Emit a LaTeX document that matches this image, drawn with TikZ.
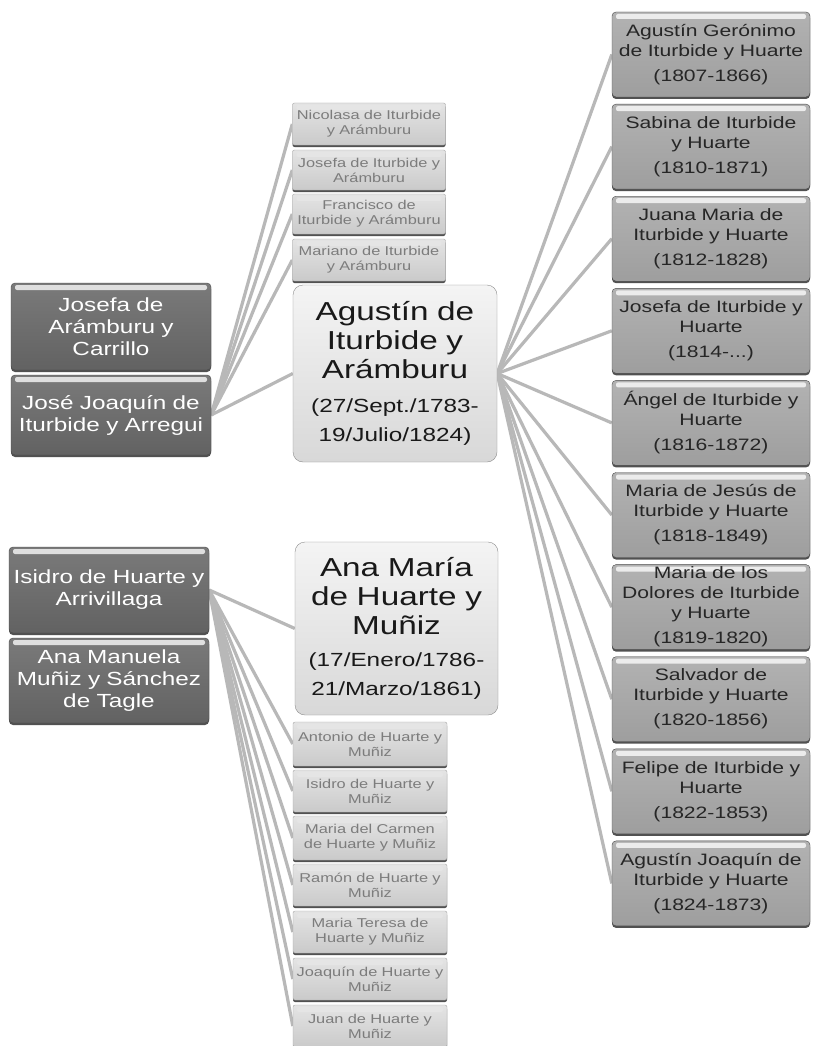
\documentclass[tikz,border=0pt]{standalone}
\usepackage{fontspec}
\newfontfamily\wf{Liberation Sans}[FakeStretch=1.28]
\usetikzlibrary{shadows}
\pgfdeclarelayer{bg}
\pgfsetlayers{bg,main}
\definecolor{dkA}{HTML}{7A7A7A}
\definecolor{dkB}{HTML}{626262}
\definecolor{mdA}{HTML}{B2B2B2}
\definecolor{mdB}{HTML}{9E9E9E}
\definecolor{ltA}{HTML}{F4F4F4}
\definecolor{ltB}{HTML}{D8D8D8}
\definecolor{smA}{HTML}{E4E4E4}
\definecolor{smB}{HTML}{CACACA}
\definecolor{lineC}{HTML}{B8B8B8}
\definecolor{edgeC}{HTML}{4A4A4A}
\definecolor{txtD}{HTML}{262626}
\definecolor{txtS}{HTML}{7C7C7C}
\begin{document}
\begin{tikzpicture}[x=1pt,y=-1pt,
  hilite/.style={path picture={\fill[#1,rounded corners=2pt] ([xshift=4pt,yshift=-2pt]path picture bounding box.north west) rectangle ([xshift=-4pt,yshift=-7pt]path picture bounding box.north east);}},
  shad/.style={drop shadow={shadow xshift=0pt,shadow yshift=-2pt,fill=black!80,opacity=.85}},
  parent/.style={shad,rounded corners=4pt,draw=edgeC,top color=dkA,bottom color=dkB,hilite=white!75!gray,
    text=white,align=center,text width=196pt,minimum width=200pt,minimum height=86pt,inner sep=0pt,
    font=\wf\fontsize{19}{22}\selectfont},
  childr/.style={shad,rounded corners=4pt,draw=edgeC,top color=mdA,bottom color=mdB,hilite=white!85!gray,
    text=txtD,align=center,text width=196pt,minimum width=198pt,minimum height=85pt,inner sep=0pt,
    font=\wf\fontsize{16.5}{20}\selectfont},
  center/.style={rounded corners=10pt,draw=black!45,top color=ltA,bottom color=ltB,
    text=black!90,align=center,text width=200pt,minimum width=204pt,inner sep=0pt,
    font=\wf\fontsize{26}{29}\selectfont},
  small/.style={shad,rounded corners=2pt,draw=black!35,top color=smA,bottom color=smB,hilite=white!80!gray,
    text=txtS,align=center,text width=152pt,minimum width=153pt,minimum height=42pt,inner sep=0pt,
    font=\wf\fontsize{12.8}{15}\selectfont},
  conn/.style={draw=lineC,line width=3.2pt}]
\begin{pgfonlayer}{bg}
\fill[white] (0,0) rectangle (812,1046);
\end{pgfonlayer}
\useasboundingbox (0,0) rectangle (812,1046);

% parents (top)
\node[parent,minimum height=87pt] (jos) at (111,326.5) {Josefa de\\Arámburu y\\Carrillo};
\node[parent,minimum height=80pt] (jjo) at (111,415) {José Joaquín de\\Iturbide y Arregui};
% parents (bottom)
\node[parent] (isi) at (109,590) {Isidro de Huarte y\\Arrivillaga};
\node[parent,minimum height=85pt] (anm) at (109,680.5) {Ana Manuela\\Muñiz y Sánchez\\de Tagle};

% centre persons
\node[center,minimum height=177pt] (agu) at (395,373.5)
  {Agustín de\\Iturbide y\\Arámburu\\[9pt]
   \fontsize{19}{25}\selectfont (27/Sept./1783-\\19/Julio/1824)};
\node[center,minimum height=173pt,minimum width=203pt] (ana) at (396.5,628.5)
  {Ana María\\de Huarte y\\Muñiz\\[6pt]
   \fontsize{19}{26}\selectfont (17/Enero/1786-\\21/Marzo/1861)};

% siblings of Agustín
\node[small] (s1) at (369,124) {Nicolasa de Iturbide\\y Arámburu};
\node[small,minimum height=40pt] (s2) at (369,170) {Josefa de Iturbide y\\Arámburu};
\node[small,minimum height=40pt] (s3) at (369,214) {Francisco de\\Iturbide y Arámburu};
\node[small] (s4) at (369,260) {Mariano de Iturbide\\y Arámburu};

% siblings of Ana María
\node[small,minimum width=154pt,minimum height=44pt] (b1) at (370,744) {Antonio de Huarte y\\Muñiz};
\node[small,minimum width=154pt] (b2) at (370,791) {Isidro de Huarte y\\Muñiz};
\node[small,minimum width=154pt,minimum height=44pt] (b3) at (370,838) {Maria del Carmen\\de Huarte y Muñiz};
\node[small,minimum width=154pt] (b4) at (370,885) {Ramón de Huarte y\\Muñiz};
\node[small,minimum width=154pt] (b5) at (370,932) {Maria Teresa de\\Huarte y Muñiz};
\node[small,minimum width=154pt] (b6) at (370,979) {Joaquín de Huarte y\\Muñiz};
\node[small,minimum width=154pt] (b7) at (370,1026) {Juan de Huarte y\\Muñiz};

% children
\node[childr] (r1) at (711,54.5) {Agustín Gerónimo\\de Iturbide y Huarte\\[5pt](1807-1866)};
\node[childr] (r2) at (711,146.6) {Sabina de Iturbide\\y Huarte\\[5pt](1810-1871)};
\node[childr] (r3) at (711,238.7) {Juana Maria de\\Iturbide y Huarte\\[5pt](1812-1828)};
\node[childr] (r4) at (711,330.8) {Josefa de Iturbide y\\Huarte\\[5pt](1814-...)};
\node[childr] (r5) at (711,422.9) {Ángel de Iturbide y\\Huarte\\[5pt](1816-1872)};
\node[childr] (r6) at (711,515) {Maria de Jesús de\\Iturbide y Huarte\\[5pt](1818-1849)};
\node[childr] (r7) at (711,607.1) {Maria de los\\Dolores de Iturbide\\y Huarte\\[5pt](1819-1820)};
\node[childr] (r8) at (711,699.2) {Salvador de\\Iturbide y Huarte\\[5pt](1820-1856)};
\node[childr] (r9) at (711,791.3) {Felipe de Iturbide y\\Huarte\\[5pt](1822-1853)};
\node[childr] (r10) at (711,883.4) {Agustín Joaquín de\\Iturbide y Huarte\\[5pt](1824-1873)};

\begin{pgfonlayer}{bg}
  \foreach \n in {s1,s2,s3,s4,agu} \draw[conn] (jjo.east) -- (\n.west);
  \foreach \n in {r1,r2,r3,r4,r5,r6,r7,r8,r9,r10} \draw[conn] (agu.east) -- (\n.west);
  \foreach \n in {ana,b1,b2,b3,b4,b5,b6,b7} \draw[conn] (isi.east) -- (\n.west);
\end{pgfonlayer}
\end{tikzpicture}
\end{document}
